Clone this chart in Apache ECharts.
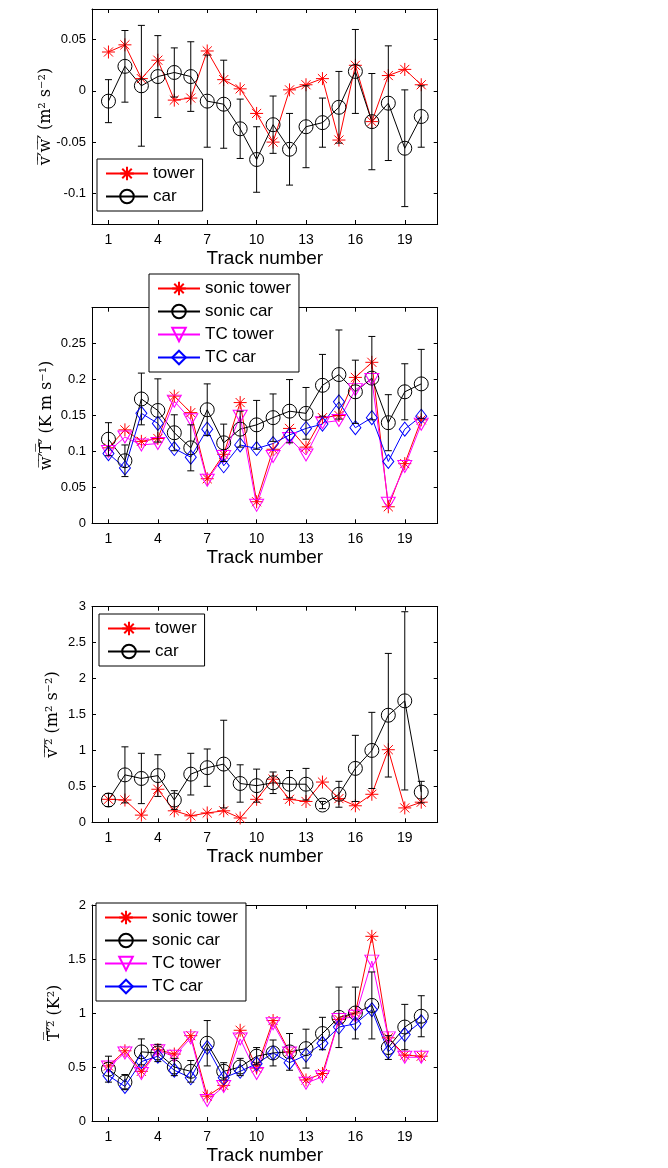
<!DOCTYPE html>
<html>
<head>
<meta charset="utf-8">
<script src="https://cdn.jsdelivr.net/npm/echarts@6/dist/echarts.min.js"></script>
<style>
  html, body { margin: 0; padding: 0; background: #fff; }
  #chart { width: 668px; height: 1168px; }
</style>
</head>
<body>
<div id="chart"></div>
<script>
let track = [1, 2, 3, 4, 5, 6, 7, 8, 9, 10, 11, 12, 13, 14, 15, 16, 17, 18, 19, 20];
let xTicks = [1, 4, 7, 10, 13, 16, 19];

// panel 1: v'w'
let vwTower = [0.038, 0.045, 0.012, 0.030, -0.009, -0.007, 0.039, 0.011, 0.002, -0.022, -0.050, 0.001, 0.006, 0.012, -0.048, 0.025, -0.030, 0.015, 0.021, 0.006];
let vwCar = [-0.010, 0.024, 0.005, 0.014, 0.018, 0.014, -0.010, -0.013, -0.037, -0.067, -0.033, -0.057, -0.035, -0.031, -0.016, 0.019, -0.030, -0.012, -0.056, -0.025];
let vwCarErr = [0.021, 0.035, 0.059, 0.040, 0.024, 0.034, 0.045, 0.043, 0.029, 0.032, 0.028, 0.035, 0.040, 0.024, 0.035, 0.041, 0.047, 0.056, 0.057, 0.030];
let vwTicks = [-0.1, -0.05, 0, 0.05];

// panel 2: w'T'
let wtSonicTower = [0.105, 0.130, 0.114, 0.118, 0.177, 0.154, 0.062, 0.096, 0.168, 0.030, 0.103, 0.132, 0.106, 0.147, 0.150, 0.203, 0.224, 0.023, 0.083, 0.144];
let wtSonicCar = [0.117, 0.087, 0.173, 0.157, 0.126, 0.105, 0.158, 0.112, 0.131, 0.137, 0.147, 0.156, 0.153, 0.192, 0.207, 0.183, 0.202, 0.140, 0.183, 0.194];
let wtSonicCarErr = [0.023, 0.022, 0.036, 0.044, 0.025, 0.032, 0.036, 0.026, 0.025, 0.034, 0.033, 0.044, 0.036, 0.043, 0.062, 0.044, 0.058, 0.039, 0.039, 0.048];
let wtTcTower = [0.100, 0.120, 0.109, 0.111, 0.170, 0.144, 0.060, 0.093, 0.149, 0.025, 0.093, 0.118, 0.095, 0.140, 0.143, 0.186, 0.200, 0.028, 0.079, 0.138];
let wtTcCar = [0.097, 0.077, 0.153, 0.139, 0.104, 0.092, 0.131, 0.080, 0.109, 0.104, 0.111, 0.123, 0.132, 0.138, 0.169, 0.133, 0.147, 0.086, 0.131, 0.149];
let wtTicks = [0, 0.05, 0.1, 0.15, 0.2, 0.25];

// panel 3: v'^2
let v2Tower = [0.32, 0.31, 0.10, 0.46, 0.16, 0.09, 0.13, 0.16, 0.06, 0.32, 0.60, 0.32, 0.29, 0.56, 0.33, 0.23, 0.39, 1.01, 0.20, 0.28];
let v2Car = [0.31, 0.66, 0.61, 0.65, 0.31, 0.67, 0.76, 0.81, 0.54, 0.51, 0.55, 0.53, 0.53, 0.24, 0.39, 0.75, 1.00, 1.49, 1.69, 0.42];
let v2CarErr = [0.09, 0.39, 0.35, 0.29, 0.13, 0.29, 0.26, 0.61, 0.26, 0.23, 0.15, 0.19, 0.22, 0.05, 0.18, 0.46, 0.53, 0.86, 1.24, 0.15];
let v2Ticks = [0, 0.5, 1, 1.5, 2, 2.5, 3];

// panel 4: T'^2
let t2SonicTower = [0.51, 0.65, 0.46, 0.66, 0.62, 0.79, 0.23, 0.33, 0.84, 0.49, 0.93, 0.64, 0.38, 0.44, 0.94, 1.00, 1.71, 0.77, 0.61, 0.60];
let t2SonicCar = [0.48, 0.36, 0.64, 0.63, 0.50, 0.46, 0.72, 0.46, 0.50, 0.60, 0.63, 0.64, 0.67, 0.81, 0.96, 1.00, 1.07, 0.68, 0.87, 0.97];
let t2SonicCarErr = [0.12, 0.07, 0.12, 0.08, 0.08, 0.10, 0.21, 0.08, 0.08, 0.08, 0.12, 0.17, 0.18, 0.15, 0.28, 0.24, 0.31, 0.11, 0.21, 0.19];
let t2TcTower = [0.50, 0.63, 0.44, 0.65, 0.60, 0.77, 0.19, 0.32, 0.76, 0.44, 0.90, 0.63, 0.35, 0.41, 0.94, 0.97, 1.48, 0.77, 0.59, 0.59];
let t2TcCar = [0.42, 0.32, 0.55, 0.60, 0.47, 0.40, 0.68, 0.40, 0.46, 0.53, 0.63, 0.54, 0.61, 0.72, 0.87, 0.90, 1.03, 0.64, 0.80, 0.92];
let t2Ticks = [0, 0.5, 1, 1.5, 2];

let gridTop = [9, 307.7, 606.7, 905];
let gridHeight = [215, 215.6, 215.6, 216];
let yNameGap = [38, 37, 31, 29];

let sansFont = 'Liberation Sans';
let serifFont = 'DejaVu Serif';

let starPath = 'path://M5,0L5,10M0,5L10,5M1.5,1.5L8.5,8.5M8.5,1.5L1.5,8.5';
let triPath = 'path://M0,0L10,0L5,8.66Z';

function pairs(vals) {
      return track.map(function (t, i) { return [t, vals[i]]; });
}

function triples(vals, errs) {
      return track.map(function (t, i) { return [t, vals[i], errs[i]]; });
}

function xAxisFor(i, top) {
      return {
            type: 'value', gridIndex: i, min: 0, max: 21,
            position: top ? 'top' : 'bottom',
            name: top ? '' : 'Track number',
            nameLocation: 'middle', nameGap: 25,
            nameTextStyle: { fontFamily: sansFont, fontSize: 19, color: '#000' },
            axisLine: { show: true, onZero: false, lineStyle: { color: '#000', width: 1 } },
            axisTick: { show: true, inside: true, length: 4, customValues: xTicks, lineStyle: { color: '#000' } },
            axisLabel: { show: !top, customValues: xTicks, margin: 9, fontFamily: sansFont, fontSize: 14, color: '#000' },
            splitLine: { show: false }
      };
}

function yAxisFor(i, min, max, ticks, name, right) {
      return {
            type: 'value', gridIndex: i, min: min, max: max,
            position: right ? 'right' : 'left',
            name: right ? '' : name,
            nameLocation: 'middle', nameGap: yNameGap[i], nameRotate: 90,
            nameMoveOverlap: false,
            nameTextStyle: { fontFamily: serifFont, fontSize: 16, color: '#000' },
            axisLine: { show: true, onZero: false, lineStyle: { color: '#000', width: 1 } },
            axisTick: { show: true, inside: true, length: 4, customValues: ticks, lineStyle: { color: '#000' } },
            axisLabel: { show: !right, customValues: ticks, margin: 6, fontFamily: sansFont, fontSize: 13, color: '#000' },
            splitLine: { show: false }
      };
}

function lineSeries(i, name, vals, color, symbol, size) {
      let hollow = symbol !== starPath;
      return {
            type: 'line', name: name, xAxisIndex: i, yAxisIndex: i,
            data: pairs(vals),
            symbol: symbol, symbolSize: size, showSymbol: true,
            lineStyle: { color: color, width: 1 },
            itemStyle: { color: hollow ? 'rgba(0,0,0,0)' : color, borderColor: color, borderWidth: 1 },
            emphasis: { disabled: true },
            z: 3
      };
}

function errorSeries(i, vals, errs) {
      return {
            type: 'custom', xAxisIndex: i, yAxisIndex: i,
            data: triples(vals, errs),
            z: 4,
            renderItem: function (params, api) {
                  let x = api.value(0), y = api.value(1), e = api.value(2);
                  let hi = api.coord([x, y + e]);
                  let lo = api.coord([x, y - e]);
                  let st = { stroke: '#000', lineWidth: 1 };
                  return {
                        type: 'group',
                        children: [
                              { type: 'line', shape: { x1: hi[0], y1: hi[1], x2: lo[0], y2: lo[1] }, style: st },
                              { type: 'line', shape: { x1: hi[0] - 3.5, y1: hi[1], x2: hi[0] + 3.5, y2: hi[1] }, style: st },
                              { type: 'line', shape: { x1: lo[0] - 3.5, y1: lo[1], x2: lo[0] + 3.5, y2: lo[1] }, style: st }
                        ]
                  };
            }
      };
}

function legendFor(names, left, top) {
      return {
            data: names, orient: 'vertical', left: left, top: top,
            padding: [6, 8, 6, 8], itemGap: 6, itemWidth: 42, itemHeight: 17,
            borderColor: '#000', borderWidth: 1, backgroundColor: '#fff',
            selectedMode: false,
            textStyle: { fontFamily: sansFont, fontSize: 17, color: '#000' }
      };
}

let grids = [];
let xAxes = [];
let yAxes = [];
for (let i = 0; i < 4; i++) {
      grids.push({ left: 92, width: 345.7, top: gridTop[i], height: gridHeight[i] });
}
for (let i = 0; i < 4; i++) xAxes.push(xAxisFor(i, false));
for (let i = 0; i < 4; i++) xAxes.push(xAxisFor(i, true));

let yNames = [
      'v\u0305\u2032\u0305w\u0305\u2032\u0305 (m\u00b2 s\u207b\u00b2)',
      'w\u0305\u2032\u0305T\u0305\u2032\u0305 (K m s\u207b\u00b9)',
      'v\u0305\u2032\u0305\u00b2\u0305 (m\u00b2 s\u207b\u00b2)',
      'T\u0305\u2032\u0305\u00b2\u0305 (K\u00b2)'
];
let yRange = [[-0.13, 0.08, vwTicks], [0, 0.3, wtTicks], [0, 3, v2Ticks], [0, 2, t2Ticks]];
for (let i = 0; i < 4; i++) yAxes.push(yAxisFor(i, yRange[i][0], yRange[i][1], yRange[i][2], yNames[i], false));
for (let i = 0; i < 4; i++) yAxes.push(yAxisFor(i, yRange[i][0], yRange[i][1], yRange[i][2], '', true));

let series = [
      lineSeries(0, 'tower', vwTower, '#ff0000', starPath, 13),
      errorSeries(0, vwCar, vwCarErr),
      lineSeries(0, 'car', vwCar, '#000000', 'circle', 14),

      lineSeries(1, 'sonic tower', wtSonicTower, '#ff0000', starPath, 13),
      errorSeries(1, wtSonicCar, wtSonicCarErr),
      lineSeries(1, 'sonic car', wtSonicCar, '#000000', 'circle', 14),
      lineSeries(1, 'TC tower', wtTcTower, '#ff00ff', triPath, [14, 12]),
      lineSeries(1, 'TC car', wtTcCar, '#0000ff', 'diamond', [11, 14]),

      lineSeries(2, 'tower', v2Tower, '#ff0000', starPath, 13),
      errorSeries(2, v2Car, v2CarErr),
      lineSeries(2, 'car', v2Car, '#000000', 'circle', 14),

      lineSeries(3, 'sonic tower', t2SonicTower, '#ff0000', starPath, 13),
      errorSeries(3, t2SonicCar, t2SonicCarErr),
      lineSeries(3, 'sonic car', t2SonicCar, '#000000', 'circle', 14),
      lineSeries(3, 'TC tower', t2TcTower, '#ff00ff', triPath, [14, 12]),
      lineSeries(3, 'TC car', t2TcCar, '#0000ff', 'diamond', [11, 14])
];

let option = {
      animation: false,
      backgroundColor: '#fff',
      grid: grids,
      xAxis: xAxes,
      yAxis: yAxes,
      legend: [
            legendFor(['tower', 'car'], 97, 159),
            legendFor(['sonic tower', 'sonic car', 'TC tower', 'TC car'], 149, 274),
            legendFor(['tower', 'car'], 99, 614),
            legendFor(['sonic tower', 'sonic car', 'TC tower', 'TC car'], 96, 903)
      ],
      series: series
};

let chart = echarts.init(document.getElementById('chart'));
chart.setOption(option);
</script>
</body>
</html>
